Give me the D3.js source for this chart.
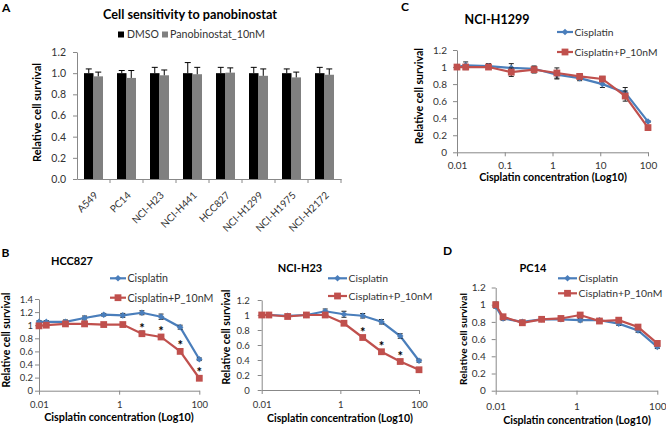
<!DOCTYPE html>
<html><head><meta charset="utf-8">
<script src="https://cdn.jsdelivr.net/npm/d3@7"></script>
<style>body{margin:0;background:#fff}svg{display:block}text{font-family:Lato,"Open Sans",sans-serif}</style>
</head><body><svg id="c" width="666" height="427"></svg>
<script>
// ---------- DATA ----------
const cellLines = ["A549","PC14","NCI-H23","NCI-H441","HCC827","NCI-H1299","NCI-H1975","NCI-H2172"];
const dmsoVals = [1,1,1,1,1,1,1,1];
const dmsoErr = [0.04,0.025,0.055,0.10,0.055,0.055,0.04,0.055];
const panoVals = [0.97,0.955,0.98,0.99,1.005,0.975,0.96,0.985];
const panoErr = [0.04,0.07,0.05,0.065,0.045,0.065,0.05,0.055];
const barTicksA = [0,0.2,0.4,0.6,0.8,1.0,1.2];

const conc = [0.01,0.0152,0.0457,0.137,0.412,1.235,3.70,11.1,33.3,100];
const h1299Cis = [1.0,1.02,1.01,0.99,0.98,0.91,0.87,0.80,0.70,0.36];
const h1299CisErr = [0.02,0.04,0.03,0.05,0.03,0.05,0.03,0.04,0.06,0.01];
const h1299P = [1.0,1.0,1.0,0.94,0.97,0.93,0.89,0.86,0.66,0.29];
const h1299PErr = [0.02,0.03,0.02,0.05,0.04,0.06,0.03,0.03,0.06,0.01];
const hcc827Cis = [1.05,1.05,1.05,1.11,1.16,1.15,1.19,1.13,0.97,0.48];
const hcc827CisErr = [0.02,0.02,0.03,0.03,0.02,0.03,0.03,0.04,0.03,0.02];
const hcc827P = [0.99,1.0,1.02,1.02,1.01,1.01,0.87,0.82,0.60,0.19];
const hcc827PErr = [0.01,0.01,0.02,0.02,0.02,0.02,0.04,0.03,0.02,0.02];
const hcc827Stars = [false,false,false,false,false,false,true,true,true,true];
const h23Cis = [1.0,1.0,0.99,1.0,1.05,1.01,0.99,0.91,0.72,0.39];
const h23CisErr = [0.02,0.02,0.02,0.02,0.03,0.04,0.03,0.03,0.03,0.02];
const h23P = [1.0,1.0,0.98,1.0,1.0,0.89,0.70,0.51,0.38,0.27];
const h23PErr = [0.01,0.01,0.02,0.02,0.02,0.03,0.02,0.02,0.02,0.01];
const h23Stars = [false,false,false,false,false,false,true,true,true,false];
const pc14Cis = [0.98,0.84,0.80,0.83,0.83,0.82,0.82,0.78,0.70,0.51];
const pc14CisErr = [0.02,0.02,0.02,0.02,0.02,0.02,0.02,0.02,0.02,0.02];
const pc14P = [1.0,0.86,0.79,0.83,0.84,0.88,0.81,0.82,0.74,0.55];
const pc14PErr = [0.03,0.02,0.02,0.02,0.02,0.02,0.02,0.02,0.02,0.02];
const seriesNames = ["Cisplatin","Cisplatin+P_10nM"];
const barLegend = ["DMSO","Panobinostat_10nM"];

// ---------- STYLE ----------
const BLUE = "#4a7ebb", RED = "#c0504d", AXIS = "#888", TXT = "#333";
const svg = d3.select("#c");
const DIAM = "M0,-3.3L3.3,0L0,3.3L-3.3,0Z", SQ = "M-3.4,-3.4H3.4V3.4H-3.4Z";

// scale a text's font so that its rendered length matches the reference width
function fit(sel, w, maxFs){
  const fs = parseFloat(sel.style("font-size"));
  const len = sel.node().getComputedTextLength();
  let nf = fs*w/len; if(maxFs) nf = Math.min(nf,maxFs);
  sel.style("font-size", nf+"px");
  return nf;
}
function styleAxis(g,fs){
  g.select(".domain").attr("stroke",AXIS);
  g.selectAll(".tick line").attr("stroke",AXIS);
  g.selectAll(".tick text").attr("fill",TXT).style("font-size",fs+"px").style("font-family","Lato, sans-serif");
}
function letter(t,x,y){
  svg.append("text").attr("x",x).attr("y",y).text(t).style("font-size","12px").style("font-weight","bold").attr("fill","#000");
}

// ---------- PANEL A ----------
(function(){
  const x = d3.scaleBand().domain(cellLines).range([77,341]);
  const y = d3.scaleLinear().domain([0,1.2]).range([179,52]);
  const bw = 9.5;
  letter("A",2,12);
  fit(svg.append("text").attr("x",190).attr("y",19).attr("text-anchor","middle").text("Cell sensitivity to panobinostat")
    .style("font-size","13px").style("font-weight","bold"),174,16);
  const ya = svg.append("g").attr("transform","translate(77,0)")
    .call(d3.axisLeft(y).tickValues(barTicksA).tickFormat(d3.format(".1f")).tickSize(4).tickPadding(7).tickSizeOuter(0));
  styleAxis(ya,10.5);
  const xa = svg.append("g").attr("transform","translate(0,179)")
    .call(d3.axisBottom(x).tickSize(0).tickFormat(""));
  styleAxis(xa,10.5);
  svg.append("g").selectAll("line").data(cellLines).join("line")
    .attr("x1",d=>x(d)+x.bandwidth()).attr("x2",d=>x(d)+x.bandwidth()).attr("y1",179).attr("y2",183).attr("stroke",AXIS);
  svg.append("g").selectAll("text").data(cellLines).join("text")
    .attr("transform",d=>`translate(${x(d)+x.bandwidth()/2+5},${196}) rotate(-45)`)
    .attr("text-anchor","end").attr("fill",TXT).style("font-size","10px").text(d=>d);
  const g = svg.append("g");
  cellLines.forEach((c,i)=>{
    const cx = x(c)+x.bandwidth()/2;
    [[dmsoVals[i],dmsoErr[i],"#000",cx-bw],[panoVals[i],panoErr[i],"#808080",cx]].forEach(([v,e,col,x0])=>{
      g.append("rect").attr("x",x0).attr("width",bw).attr("y",y(v)).attr("height",y(0)-y(v)).attr("fill",col);
      const m = x0+bw/2;
      g.append("line").attr("x1",m).attr("x2",m).attr("y1",y(v)).attr("y2",y(v+e)).attr("stroke","#000").attr("stroke-width",1);
      g.append("line").attr("x1",m-3).attr("x2",m+3).attr("y1",y(v+e)).attr("y2",y(v+e)).attr("stroke","#000").attr("stroke-width",1);
    });
  });
  svg.append("rect").attr("x",118).attr("y",31.5).attr("width",6).attr("height",6).attr("fill","#000");
  const t2 = svg.append("text").attr("x",170).attr("y",38).text(barLegend[1]).style("font-size","10.8px").attr("fill",TXT);
  const lf = fit(t2,95,12);
  svg.append("text").attr("x",127).attr("y",38).text(barLegend[0]).style("font-size",Math.min(lf,10.5)+"px").attr("fill",TXT);
  svg.append("rect").attr("x",162).attr("y",31.5).attr("width",6).attr("height",6).attr("fill","#808080");
  fit(svg.append("text").attr("transform","translate(41,112.5) rotate(-90)").attr("text-anchor","middle")
    .text("Relative cell survival").style("font-size","11px").style("font-weight","bold"),99,12);
})();

// ---------- LINE PANELS ----------
function linePanel(o){
  const x = d3.scaleLog().domain([0.01,100]).range(o.xr);
  const y = d3.scaleLinear().domain([0,o.ymax]).range(o.yr);
  if(o.letter) letter(o.letter,o.lx,o.ly);
  svg.append("text").attr("x",o.tx).attr("y",o.ty).attr("text-anchor","middle").text(o.title)
    .style("font-size",o.tfs+"px").style("font-weight","bold");
  const yt = d3.range(0,o.ymax+0.001,0.2).map(v=>+v.toFixed(1));
  const ya = svg.append("g").attr("transform",`translate(${o.xr[0]},0)`)
    .call(d3.axisLeft(y).tickValues(yt).tickFormat(d=>d3.format("")(d)).tickSize(4).tickPadding(o.ypad).tickSizeOuter(0));
  styleAxis(ya,o.fs);
  const xa = svg.append("g").attr("transform",`translate(0,${o.yr[0]})`)
    .call(d3.axisBottom(x).tickValues(o.xticks).tickFormat(d=>d3.format("")(d)).tickSize(4).tickPadding(o.xpad).tickSizeOuter(0));
  styleAxis(xa,o.fs);
  fit(svg.append("text").attr("x",o.xtx).attr("y",o.xty).attr("text-anchor","middle").text("Cisplatin concentration (Log10)")
    .style("font-size","11px").style("font-weight","bold"),o.xtw,12.5);
  fit(svg.append("text").attr("transform",`translate(${o.ytx},${o.yty}) rotate(-90)`).attr("text-anchor","middle")
    .text("Relative cell survival").style("font-size","11px").style("font-weight","bold"),o.ytw,11.5);
  const line = d3.line().x((d,i)=>x(conc[i])).y(d=>y(d));
  const series = [[o.cis,o.cisErr,BLUE,DIAM],[o.p,o.pErr,RED,SQ]];
  series.forEach(([vals,errs,col,mk])=>{
    const g = svg.append("g");
    g.append("path").attr("d",line(vals)).attr("fill","none").attr("stroke",col).attr("stroke-width",2.2);
    vals.forEach((v,i)=>{
      const cx = x(conc[i]);
      g.append("line").attr("x1",cx).attr("x2",cx).attr("y1",y(v-errs[i])).attr("y2",y(v+errs[i])).attr("stroke","#222").attr("stroke-width",1);
      [v-errs[i],v+errs[i]].forEach(e=>g.append("line").attr("x1",cx-2.5).attr("x2",cx+2.5).attr("y1",y(e)).attr("y2",y(e)).attr("stroke","#222").attr("stroke-width",1));
    });
    g.selectAll(null).data(vals).join("path")
      .attr("transform",(d,i)=>`translate(${x(conc[i])},${y(d)})`)
      .attr("d",mk).attr("fill",col);
  });
  if(o.stars){
    o.p.forEach((v,i)=>{ if(o.stars[i]) svg.append("text").attr("x",x(conc[i])).attr("y",y(v)-1).attr("text-anchor","middle")
      .text("*").style("font-size","13px").style("font-weight","bold"); });
  }
  const lg = svg.append("g");
  const texts = [];
  o.leg.forEach(([lx,ly],k)=>{
    const col = k===0?BLUE:RED;
    lg.append("line").attr("x1",lx).attr("x2",lx+o.ll).attr("y1",ly).attr("y2",ly).attr("stroke",col).attr("stroke-width",2.2);
    lg.append("path").attr("transform",`translate(${lx+o.ll/2},${ly})`).attr("d",k===0?DIAM:SQ).attr("fill",col);
    texts.push(lg.append("text").attr("x",lx+o.ll+1.5).attr("y",ly+3.8).text(seriesNames[k]).style("font-size","10.5px").attr("fill",TXT));
  });
  const lfs = fit(texts[1],o.lw,11.5);
  texts[0].style("font-size",lfs+"px");
}

linePanel({letter:"C",lx:401,ly:11,title:"NCI-H1299",tfs:12.5,tx:497,ty:23.5,xr:[457,648],yr:[152.3,50],ymax:1.2,fs:10,ypad:6,xpad:6,
  xticks:[0.01,0.1,1,10,100],xtx:553,xty:181,xtw:148,ytx:423,yty:96,ytw:96,cis:h1299Cis,cisErr:h1299CisErr,p:h1299P,pErr:h1299PErr,
  ll:16,lw:83,leg:[[557,32],[557,52]]});
linePanel({letter:"B",lx:1.5,ly:257,title:"HCC827",tfs:11,tx:72,ty:265,xr:[39,199.3],yr:[390.7,299],ymax:1.4,fs:9.5,ypad:2,xpad:7,
  xticks:[0.01,1,100],xtx:119,xty:420.5,xtw:150,ytx:9.5,yty:340,ytw:95,cis:hcc827Cis,cisErr:hcc827CisErr,p:hcc827P,pErr:hcc827PErr,
  stars:hcc827Stars,ll:16,lw:86,leg:[[110,278.3],[110,297.7]]});
linePanel({letter:"",lx:0,ly:0,title:"NCI-H23",tfs:11,tx:300,ty:272,xr:[261.7,419],yr:[390,300],ymax:1.2,fs:9.5,ypad:8,xpad:7,
  xticks:[0.01,1,100],xtx:340,xty:421.5,xtw:146,ytx:230,yty:337,ytw:95,cis:h23Cis,cisErr:h23CisErr,p:h23P,pErr:h23PErr,
  stars:h23Stars,ll:19,lw:84,leg:[[328,278.3],[328,296]]});
linePanel({letter:"D",lx:443,ly:255,title:"PC14",tfs:11,tx:533,ty:272,xr:[495.7,657.3],yr:[390.7,287.5],ymax:1.2,fs:10,ypad:6,xpad:8,
  xticks:[0.01,1,100],xtx:577,xty:424,xtw:148,ytx:467,yty:339,ytw:92,cis:pc14Cis,cisErr:pc14CisErr,p:pc14P,pErr:pc14PErr,
  ll:19,lw:84,leg:[[558,278.3],[558,293.3]]});
</script></body></html>
